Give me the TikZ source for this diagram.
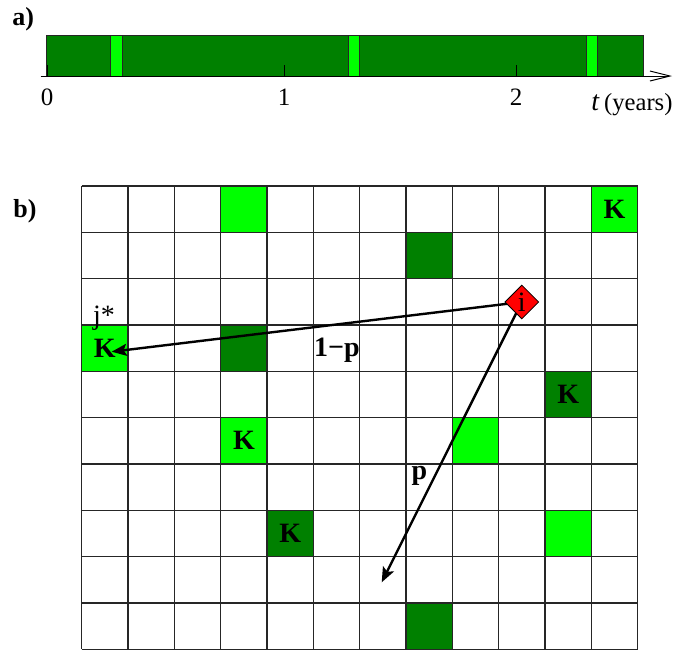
\documentclass[tikz,border=0pt]{standalone}
\usepackage{fontspec}
\setmainfont{Liberation Serif}
\usetikzlibrary{shapes.geometric,arrows.meta,calc}
\definecolor{darkg}{RGB}{0,128,0}
\definecolor{lightg}{RGB}{0,255,0}
\definecolor{redd}{RGB}{255,0,0}
\pgfdeclarelayer{fg}
\pgfsetlayers{main,fg}
\begin{document}
\begin{tikzpicture}[x=0.5pt,y=-0.5pt,
  cellD/.style={fill=darkg, minimum size=23.17pt, inner sep=0pt, draw=none},
  cellL/.style={fill=lightg, minimum size=23.17pt, inner sep=0pt, draw=none},
  ktext/.style={font=\fontsize{14}{14}\selectfont\bfseries},
  gridline/.style={draw=black!85, line width=0.55pt},
  barline/.style={draw=black!85, line width=0.5pt},
  conn/.style={line width=1.2pt, -{Stealth[length=7.5pt,width=6pt,inset=1.5pt]}},
  lbl/.style={inner sep=0pt},
]
\useasboundingbox (0,0) rectangle (679,655);

% ---------- part a) ----------
\node[lbl, anchor=base west, font=\fontsize{13}{14}\selectfont\bfseries] (la) at (12,25) {a)};
\fill[darkg] (46.7,35.7) rectangle (643.3,76);
\fill[lightg] (110.3,35.7) rectangle (122.3,76);
\fill[lightg] (348.3,35.7) rectangle (359.3,76);
\fill[lightg] (586,35.7) rectangle (597,76);
\draw[barline] (46.7,76) -- (46.7,35.7) -- (643.3,35.7) -- (643.3,76);
\foreach \xs in {110.3,122.3,348.3,359.3,586,597}
  \draw[barline] (\xs,35.7) -- (\xs,76);
\draw[line width=0.5pt, -{Straight Barb[length=10pt,width=5pt]}] (40.7,76) -- (672,76);
\foreach \xt in {47,284,516}
  \draw[line width=0.5pt] (\xt,65) -- (\xt,76);
\node[lbl, anchor=base, font=\fontsize{12.5}{13}\selectfont] (n0) at (47,105) {0};
\node[lbl, anchor=base, font=\fontsize{12.5}{13}\selectfont] (n1) at (284,105) {1};
\node[lbl, anchor=base, font=\fontsize{12.5}{13}\selectfont] (n2) at (516,105) {2};
\node[lbl, anchor=base west] (tl) at (591,110) {{\fontsize{14}{14}\selectfont\itshape t} {\fontsize{12.3}{13}\selectfont (years)}};

% ---------- part b) ----------
\node[lbl, anchor=base west, font=\fontsize{13}{14}\selectfont\bfseries] (lb) at (13,217) {b)};

% coloured cells
\node[cellL] (c0x3) at (243.9,209.2) {};
\node[cellL, ktext] (c0x11) at (614.5,209.2) {K};
\node[cellD] (c1x7) at (429.2,255.5) {};
\node[cellL, ktext] (c3x0) at (104.87,348.2) {K};
\node[cellD] (c3x3) at (243.9,348.2) {};
\node[cellD, ktext] (c4x10) at (568.2,394.5) {K};
\node[cellL, ktext] (c5x3) at (243.9,440.8) {K};
\node[cellL] (c5x8) at (475.5,440.8) {};
\node[cellD, ktext] (c7x4) at (290.2,533.5) {K};
\node[cellL] (c7x10) at (568.2,533.5) {};
\node[cellD] (c9x7) at (429.2,626.2) {};

% grid
\foreach \i in {0,...,12}
  \draw[gridline] ({81.7+46.33*\i},186) -- ({81.7+46.33*\i},649.3);
\foreach \j in {0,...,10}
  \draw[gridline] (81.7,{186+46.33*\j}) -- (637.7,{186+46.33*\j});

% labels
\node[lbl, font=\fontsize{14}{14}\selectfont] (jstar) at (104,318) {j*};
\begin{pgfonlayer}{fg}
\node[diamond, aspect=1, fill=redd, draw=black, line width=0.4pt, minimum size=17pt, inner sep=0pt,
      font=\fontsize{14}{14}\selectfont] (i) at (521.8,302) {i};
\end{pgfonlayer}

% connectors
\coordinate (t1) at (111.7,351.7);
\coordinate (t2) at (381.7,582.3);
\draw[conn] (i.center) -- (t1);
\draw[conn] (i.center) -- (t2);
\node[lbl, font=\fontsize{14}{14}\selectfont\bfseries] (l1p) at (337,350) {1−p};
\node[lbl, font=\fontsize{14}{14}\selectfont\bfseries] (lp) at (419.5,476) {p};
\end{tikzpicture}
\end{document}
